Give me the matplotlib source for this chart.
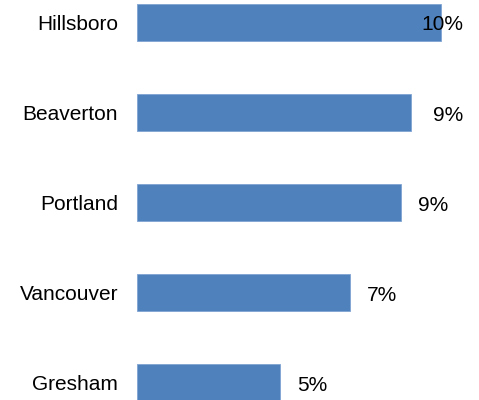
#---------------------------------Start--------------------------------

import matplotlib.pyplot as plt

#-------------------------------Data-----------------------------------

cities = ['Gresham', 'Vancouver', 'Portland', 'Beaverton', 'Hillsboro']
shares = [0.047, 0.070, 0.0868, 0.090, 0.100]
labels = ['5%', '7%', '9%', '9%', '10%']

#-------------------------------Figure---------------------------------

plt.rcParams['font.family'] = ['Liberation Sans', 'DejaVu Sans']

W, H = 479, 400
fig = plt.figure(figsize=(W / 100, H / 100), dpi=100)

# axes box in pixels (chart is cropped at top/bottom in the reference)
left_px, right_px = 137, 463
top_px, bottom_px = -23, 428
ax = fig.add_axes([left_px / W, (H - bottom_px) / H,
                   (right_px - left_px) / W, (bottom_px - top_px) / H])

xmax = 0.1072
ax.set_xlim(0, xmax)
ax.set_ylim(-0.5, len(cities) - 0.5)

ypos = list(range(len(cities)))
ax.barh(ypos, shares, height=0.41, color='#4F81BD', edgecolor='#7FA3D3',
        linewidth=0.6)

#-------------------------------Labels---------------------------------

fs = 15
for y, v, lab in zip(ypos, shares, labels):
    end_px = left_px + v / xmax * (right_px - left_px)
    if end_px + 18 + 40 > right_px + 2:
        ax.text(1.0, y - 0.03, lab, transform=ax.get_yaxis_transform(),
                ha='right', va='center', fontsize=fs, color='black')
    else:
        ax.annotate(lab, (v, y - 0.03), xytext=(17 * 0.72, 0),
                    textcoords='offset points', ha='left', va='center',
                    fontsize=fs, color='black')

ax.set_yticks(ypos)
ax.set_yticklabels(cities, fontsize=fs, va='center_baseline')
ax.tick_params(axis='y', length=0, pad=19 * 0.72)
ax.set_xticks([])
for s in ax.spines.values():
    s.set_visible(False)

#-------------------------------Save-----------------------------------

fig.savefig('out.png', dpi=100)
#------------------------------End---------------------------------------
